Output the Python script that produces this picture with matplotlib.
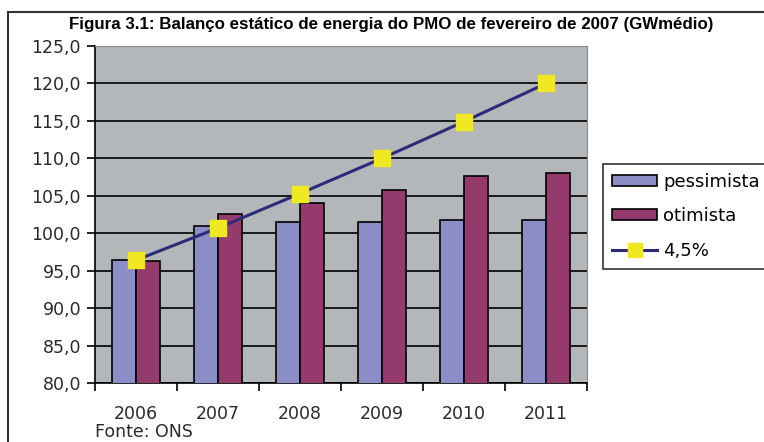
import matplotlib
matplotlib.use("Agg")
import matplotlib.pyplot as plt
import numpy as np
from matplotlib.lines import Line2D
from matplotlib.patches import Patch

# dados
anos = ["2006", "2007", "2008", "2009", "2010", "2011"]
pessimista = [96.4, 100.9, 101.5, 101.5, 101.7, 101.7]
otimista = [96.3, 102.6, 104.1, 105.8, 107.7, 108.1]
crescimento = [96.4, 100.7, 105.3, 110.0, 114.9, 120.0]
yticks = [80, 85, 90, 95, 100, 105, 110, 115, 120, 125]

W, H = 764, 442
fig = plt.figure(figsize=(W / 100, H / 100), dpi=100)
ax = fig.add_axes([95 / W, 1 - 383 / H, (587 - 95) / W, (383 - 46) / H])

x = np.arange(len(anos))
bw = 0.296
ax.set_facecolor("#B4B7BA")
ax.bar(x - bw / 2, pessimista, bw, color="#8B8EC6", edgecolor="black", linewidth=1.2, zorder=3)
ax.bar(x + bw / 2, otimista, bw, color="#953A6C", edgecolor="black", linewidth=1.2, zorder=3)
ax.plot(x, crescimento, color="#2E2A7A", lw=2.2, marker="s", ms=11,
        mfc="#F0E823", mec="#F0E823", zorder=4)

ax.set_xlim(-0.5, len(anos) - 0.5)
ax.set_ylim(80, 125)
ax.set_yticks(yticks)
ax.set_yticklabels([f"{v:.1f}".replace(".", ",") for v in yticks])
ax.yaxis.grid(True, color="black", lw=1.2, zorder=1)
ax.set_axisbelow(True)
ax.set_xticks(x)
ax.set_xticklabels(anos)
ax.set_xticks(np.arange(-0.5, len(anos)), minor=True)
ax.tick_params(axis="x", which="major", length=0, pad=16, labelsize=12.5, colors="#2a2a2a")
ax.tick_params(axis="x", which="minor", length=6, width=1.2, direction="out")
ax.tick_params(axis="y", length=6, width=1.2, labelsize=12.5, pad=4, colors="#2a2a2a")
ax.tick_params(axis="both", which="both", color="black")
for s in ["top", "right"]:
    ax.spines[s].set_color("#8A8A8A")
for s in ["left", "bottom"]:
    ax.spines[s].set_color("black")
    ax.spines[s].set_linewidth(1.2)

fig.text(391 / W, 1 - 24 / H,
         "Figura 3.1: Balanço estático de energia do PMO de fevereiro de 2007 (GWmédio)",
         ha="center", va="center", fontsize=12.2, fontweight="bold",
         family=["Liberation Sans", "DejaVu Sans"])
fig.text(95 / W, 1 - 432 / H, "Fonte: ONS", ha="left", va="center", fontsize=12.5, color="#2a2a2a")

# moldura
fig.add_artist(Line2D([8 / W, 1], [1 - 12 / H, 1 - 12 / H], color="#333333", lw=1.5))
fig.add_artist(Line2D([8 / W, 8 / W], [0, 1 - 12 / H], color="#333333", lw=1.5))

handles = [
    Patch(facecolor="#8B8EC6", edgecolor="black", lw=1.2, label="pessimista"),
    Patch(facecolor="#953A6C", edgecolor="black", lw=1.2, label="otimista"),
    Line2D([], [], color="#2E2A7A", lw=2.2, marker="s", ms=10, mfc="#F0E823",
           mec="#F0E823", label="4,5%"),
]
leg = fig.legend(handles=handles, loc="upper left", bbox_to_anchor=(603 / W, 1 - 164 / H),
                 borderaxespad=0, fancybox=False, edgecolor="black", fontsize=13,
                 handlelength=2.5, handleheight=0.55, handletextpad=0.35,
                 labelspacing=0.9, borderpad=0.5)
leg.get_frame().set_linewidth(1.2)

fig.savefig("out.png", dpi=100)
